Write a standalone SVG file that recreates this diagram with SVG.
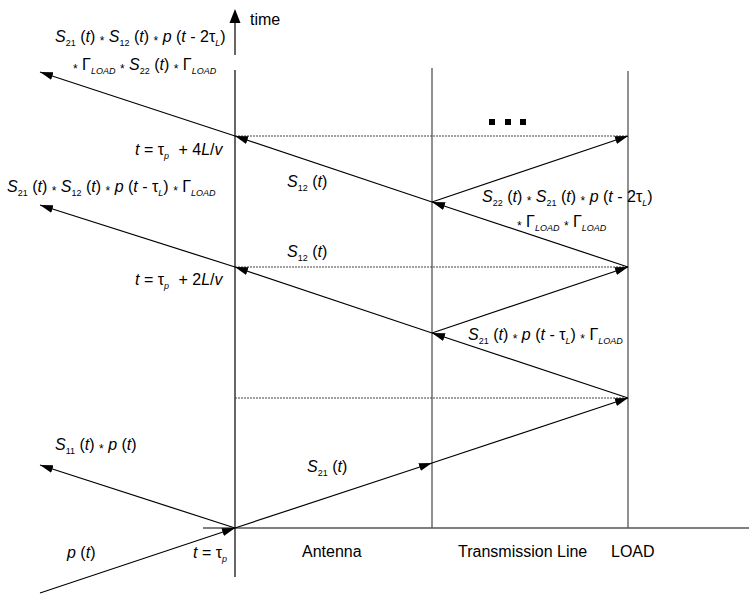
<svg xmlns="http://www.w3.org/2000/svg" width="749" height="594" viewBox="0 0 749 594">
<style>
text{font-family:"Liberation Sans",Arial,sans-serif;font-size:16px;fill:#000}
.i{font-style:italic}
.sb{font-size:9px;baseline-shift:-4px}
.sbi{font-size:9px;baseline-shift:-4px;font-style:italic}
.st{font-size:12px;baseline-shift:-3px}
.ln{stroke:#000;stroke-width:1.2;fill:none}
.ar{stroke:#000;stroke-width:1.2;fill:none;marker-end:url(#ah)}
.vg{stroke:#555;stroke-width:1.3;fill:none}
.dt{stroke:#444;stroke-width:1.2;stroke-dasharray:2 1;fill:none}
</style>
<defs>
<marker id="ah" markerUnits="userSpaceOnUse" markerWidth="14" markerHeight="10" refX="13" refY="4" orient="auto">
<path d="M0,0 L13,4 L0,8 Z" fill="#000"/>
</marker>
</defs>
<rect width="749" height="594" fill="#fff"/>
<g id="axes">
<polygon points="235,9 229.5,23 240.5,23" fill="#000"/>
<line class="ln" x1="235" y1="22" x2="235" y2="55"/>
<line class="ln" x1="235" y1="70" x2="235" y2="577"/>
<line class="ln" x1="203" y1="528" x2="749" y2="528"/>
<line class="vg" x1="432" y1="68" x2="432" y2="528"/>
<line class="vg" x1="628" y1="71" x2="628" y2="528"/>
<text x="250" y="25">time</text>
</g>
<g id="connectors">
<line class="dt" x1="235" y1="398" x2="628" y2="398"/>
<line class="dt" x1="235" y1="267" x2="628" y2="267"/>
<line class="dt" x1="235" y1="136" x2="628" y2="136"/>
<line class="ar" x1="40" y1="593" x2="235" y2="528"/>
<line class="ar" x1="235" y1="528" x2="40" y2="465"/>
<line class="ar" x1="235" y1="528" x2="432" y2="463"/>
<line class="ar" x1="432" y1="463" x2="628" y2="398"/>
<line class="ar" x1="628" y1="398" x2="432" y2="333"/>
<line class="ar" x1="432" y1="333" x2="235" y2="267"/>
<line class="ar" x1="235" y1="267" x2="40" y2="205"/>
<line class="ar" x1="432" y1="333" x2="628" y2="267"/>
<line class="ar" x1="628" y1="267" x2="432" y2="202"/>
<line class="ar" x1="432" y1="202" x2="235" y2="136"/>
<line class="ar" x1="235" y1="136" x2="40" y2="72"/>
<line class="ar" x1="432" y1="202" x2="628" y2="136"/>
</g>
<g id="dots">
<rect x="489" y="119" width="6" height="6" fill="#000"/>
<rect x="505" y="119" width="6" height="6" fill="#000"/>
<rect x="520" y="119" width="6" height="6" fill="#000"/>
</g>
<g id="label-top">
<text x="55" y="42"><tspan class="i">S</tspan><tspan class="sb">21</tspan> (<tspan class="i">t</tspan>) <tspan class="st">*</tspan> <tspan class="i">S</tspan><tspan class="sb">12</tspan> (<tspan class="i">t</tspan>) <tspan class="st">*</tspan> <tspan class="i">p</tspan> (<tspan class="i">t</tspan> - 2τ<tspan class="sbi">L</tspan>)</text>
<text x="73" y="70"><tspan class="st">*</tspan> Γ<tspan class="sbi">LOAD</tspan> <tspan class="st">*</tspan> <tspan class="i">S</tspan><tspan class="sb">22</tspan> (<tspan class="i">t</tspan>) <tspan class="st">*</tspan> Γ<tspan class="sbi">LOAD</tspan></text>
</g>
<g id="label-t4">
<text x="135" y="155"><tspan class="i">t</tspan> = τ<tspan class="sbi">p</tspan> <tspan dx="5">+ 4</tspan><tspan class="i">L</tspan>/<tspan class="i">v</tspan></text>
</g>
<g id="label-second">
<text x="7" y="192"><tspan class="i">S</tspan><tspan class="sb">21</tspan> (<tspan class="i">t</tspan>) <tspan class="st">*</tspan> <tspan class="i">S</tspan><tspan class="sb">12</tspan> (<tspan class="i">t</tspan>) <tspan class="st">*</tspan> <tspan class="i">p</tspan> (<tspan class="i">t</tspan> - τ<tspan class="sbi">L</tspan>) <tspan class="st">*</tspan> Γ<tspan class="sbi">LOAD</tspan></text>
</g>
<g id="label-s12a">
<text x="287" y="187"><tspan class="i">S</tspan><tspan class="sb">12</tspan> (<tspan class="i">t</tspan>)</text>
</g>
<g id="label-s22">
<text x="482" y="202"><tspan class="i">S</tspan><tspan class="sb">22</tspan> (<tspan class="i">t</tspan>) <tspan class="st">*</tspan> <tspan class="i">S</tspan><tspan class="sb">21</tspan> (<tspan class="i">t</tspan>) <tspan class="st">*</tspan> <tspan class="i">p</tspan> (<tspan class="i">t</tspan> - 2τ<tspan class="sbi">L</tspan>)</text>
<text x="517" y="227"><tspan class="st">*</tspan> Γ<tspan class="sbi">LOAD</tspan> <tspan class="st">*</tspan> Γ<tspan class="sbi">LOAD</tspan></text>
</g>
<g id="label-s12b">
<text x="287" y="257"><tspan class="i">S</tspan><tspan class="sb">12</tspan> (<tspan class="i">t</tspan>)</text>
</g>
<g id="label-t2">
<text x="135" y="285"><tspan class="i">t</tspan> = τ<tspan class="sbi">p</tspan> <tspan dx="5">+ 2</tspan><tspan class="i">L</tspan>/<tspan class="i">v</tspan></text>
</g>
<g id="label-s21p">
<text x="468" y="340"><tspan class="i">S</tspan><tspan class="sb">21</tspan> (<tspan class="i">t</tspan>) <tspan class="st">*</tspan> <tspan class="i">p</tspan> (<tspan class="i">t</tspan> - τ<tspan class="sbi">L</tspan>) <tspan class="st">*</tspan> Γ<tspan class="sbi">LOAD</tspan></text>
</g>
<g id="label-s11">
<text x="55" y="450"><tspan class="i">S</tspan><tspan class="sb">11</tspan> (<tspan class="i">t</tspan>) <tspan class="st">*</tspan> <tspan class="i">p</tspan> (<tspan class="i">t</tspan>)</text>
</g>
<g id="label-s21">
<text x="307" y="472"><tspan class="i">S</tspan><tspan class="sb">21</tspan> (<tspan class="i">t</tspan>)</text>
</g>
<g id="label-p">
<text x="67" y="558"><tspan class="i">p</tspan> (<tspan class="i">t</tspan>)</text>
</g>
<g id="label-t0">
<text x="193" y="558"><tspan class="i">t</tspan> = τ<tspan class="sbi">p</tspan></text>
</g>
<g id="label-antenna"><text x="302" y="557">Antenna</text></g>
<g id="label-tline"><text x="458" y="557">Transmission Line</text></g>
<g id="label-load"><text x="611" y="557">LOAD</text></g>
</svg>
